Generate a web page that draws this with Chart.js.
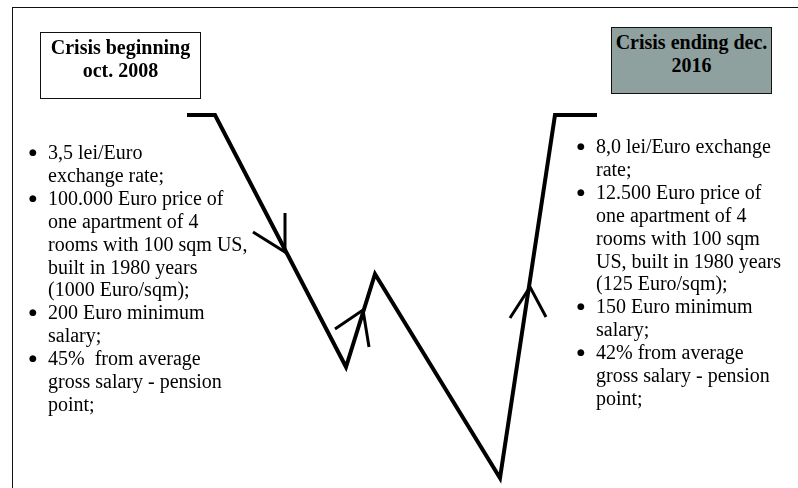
<!DOCTYPE html>
<html>
<head>
<meta charset="utf-8">
<script src="https://cdn.jsdelivr.net/npm/chart.js@4.4.1/dist/chart.umd.min.js"></script>
<style>
  html, body { margin: 0; padding: 0; background: #fff; }
  #wrap { position: relative; width: 798px; height: 488px; overflow: hidden; font-family: "Liberation Serif", "Times New Roman", serif; color: #000; }
  #myChart { position: absolute; left: 0; top: 0; }
  .frame { position: absolute; left: 12px; top: 7px; width: 800px; height: 500px; border-left: 1.5px solid #111; border-top: 1.5px solid #111; }
  .box { position: absolute; border: 1.5px solid #111; font-weight: bold; font-size: 20px; line-height: 23px; text-align: center; box-sizing: border-box; }
  .list { position: absolute; margin: 0; padding: 0; list-style: none; font-size: 20px; line-height: 22.9px; white-space: nowrap; }
  .list li { position: relative; padding-left: 16px; }
  .list li::before { content: "\25CF"; position: absolute; left: -3px; top: 0; font-family: "DejaVu Sans", sans-serif; font-size: 9px; }
</style>
</head>
<body>
<div id="wrap">
  <div class="frame"></div>
  <canvas id="myChart" width="798" height="488"></canvas>
  <div class="box" style="left:40px;top:32px;width:161px;height:67px;padding-top:3px;">Crisis beginning<br>oct. 2008</div>
  <div class="box" style="left:611px;top:27px;width:161px;height:67px;padding-top:3px;background:#8fa19f;">Crisis ending dec.<br>2016</div>
  <ul class="list" id="leftList" style="left:32px;top:141px;"></ul>
  <ul class="list" id="rightList" style="left:580px;top:135px;"></ul>
</div>
<script>
// crisis path (x = position across the period, y = depth, top = 0)
let pathX = [187, 215, 346, 375, 500, 555, 597];
let pathY = [115, 115, 367, 274, 478, 115, 115];

// direction arrows drawn on the path
let arrowDownX = [285, 285, 253];
let arrowDownY = [213, 252, 232];
let arrowSmallUpX = [335, 363, 369];
let arrowSmallUpY = [329, 310, 347];
let arrowUpX = [510, 530, 546];
let arrowUpY = [318, 287, 317];

let leftItems = [
    '3,5 lei/Euro<br>exchange rate;',
    '100.000 Euro price of<br>one apartment of 4<br>rooms with 100 sqm US,<br>built in 1980 years<br>(1000 Euro/sqm);',
    '200 Euro minimum<br>salary;',
    '45%&nbsp; from average<br>gross salary - pension<br>point;'
];
let rightItems = [
    '8,0 lei/Euro exchange<br>rate;',
    '12.500 Euro price of<br>one apartment of 4<br>rooms with 100 sqm<br>US, built in 1980 years<br>(125 Euro/sqm);',
    '150 Euro minimum<br>salary;',
    '42% from average<br>gross salary - pension<br>point;'
];

function fillList(el, items) {
    let box = '';
    items.forEach(item => {
        box += `<li>${item}</li>`;
    });
    el.innerHTML = box;
}
fillList(document.getElementById('leftList'), leftItems);
fillList(document.getElementById('rightList'), rightItems);

function toPoints(xs, ys) {
    return xs.map((x, i) => ({ x: x, y: ys[i] }));
}

function lineSet(xs, ys, width) {
    return {
        data: toPoints(xs, ys),
        showLine: true,
        borderColor: '#000',
        borderWidth: width,
        borderJoinStyle: 'miter',
        borderCapStyle: 'butt',
        pointRadius: 0,
        tension: 0,
        fill: false
    };
}

let ctx = document.getElementById('myChart').getContext('2d');
let myChart = new Chart(ctx, {
    type: 'scatter',
    data: {
        datasets: [
            lineSet(pathX, pathY, 4),
            lineSet(arrowDownX, arrowDownY, 3),
            lineSet(arrowSmallUpX, arrowSmallUpY, 3),
            lineSet(arrowUpX, arrowUpY, 3)
        ]
    },
    options: {
        responsive: false,
        animation: false,
        layout: { padding: 0 },
        scales: {
            x: { type: 'linear', min: 0, max: 798, display: false },
            y: { type: 'linear', min: 0, max: 488, reverse: true, display: false }
        },
        plugins: {
            legend: { display: false },
            tooltip: { enabled: false }
        }
    }
});
</script>
</body>
</html>
